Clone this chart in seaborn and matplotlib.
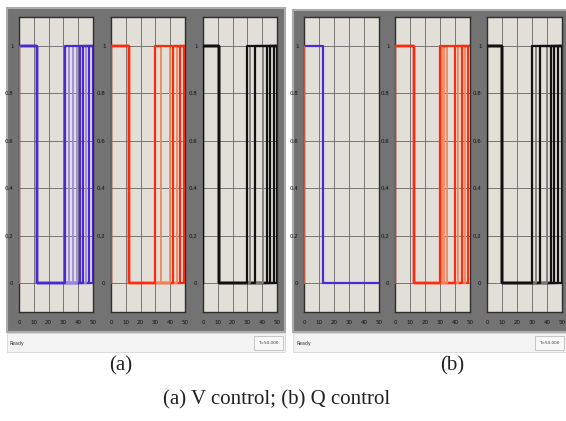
import numpy as np
import pandas as pd
import matplotlib
matplotlib.use('Agg')
import matplotlib.pyplot as plt
from matplotlib.patches import Rectangle
import seaborn as sns

### data : switching times of the units (state 1 -> 0 -> 1)
# (a) V control
a_blue_off = 12
a_blue_on = [31, 33.5, 36.5, 39, 41, 43, 45.5, 47.5, 50]
a_red_off = 12.4
a_red_on = [30, 34, 40, 42, 44.5, 46.5, 49]
a_black_off = 10.5
a_black_on = [30, 32, 35, 40.5, 43, 45.5, 48, 50]
# (b) Q control
b_blue_off = 12.5
b_blue_on = [None]          # never switched on again
b_red_off = 12.9
b_red_on = [30, 31.5, 33, 35, 40, 42, 44.5, 46.5, 49]
b_black_off = 10
b_black_on = [30, 32.5, 35, 40, 42.5, 44.5, 47, 50]

t_end = 50
x_ticks = [0, 10, 20, 30, 40, 50]
y_ticks = [0, 0.2, 0.4, 0.6, 0.8, 1]
y_ticklabels = ['0', '0.2', '0.4', '0.6', '0.8', '1']

W, H = 566, 421

def fig_box(x0, y0, x1, y1):
    # pixel box (top-left origin) -> figure fraction [left, bottom, width, height]
    return [x0 / W, 1 - y1 / H, (x1 - x0) / W, (y1 - y0) / H]

def step_df(off, on):
    xs = [0, off, off]
    ys = [1, 1, 0]
    if on is None:
        xs += [t_end]
        ys += [0]
    else:
        xs += [on, on, t_end]
        ys += [0, 1, 1]
    return pd.DataFrame({'t': xs, 'state': ys})

sns.set_style('white')
plt.rcParams['font.family'] = ['DejaVu Sans']

fig = plt.figure(figsize=(5.66, 4.21), dpi=100)
fig.patch.set_facecolor('white')

# window frames + status bars
for x0, x1, y0 in [(7, 285, 8), (293, 568, 10)]:
    fig.patches.append(Rectangle((x0 / W, 1 - 332 / H), (x1 - x0) / W, (332 - y0) / H,
                                 transform=fig.transFigure, facecolor='#737373',
                                 edgecolor='#ABABAB', lw=1.5, zorder=-3))
    fig.patches.append(Rectangle((x0 / W, 1 - 352 / H), (x1 - x0) / W, 19 / H,
                                 transform=fig.transFigure, facecolor='#F3F3F3',
                                 edgecolor='#D6D6D6', lw=0.6, zorder=-3))
    fig.text((x0 + 3) / W, 1 - 343 / H, 'Ready', fontsize=3.4, color='#333333', va='center')
    bx1 = min(x1, 566) - 2
    fig.patches.append(Rectangle(((bx1 - 29) / W, 1 - 350 / H), 29 / W, 14 / H,
                                 transform=fig.transFigure, facecolor='#F8F8F8',
                                 edgecolor='#BDBDBD', lw=0.6, zorder=-2))
    fig.text((bx1 - 14.5) / W, 1 - 343 / H, 'T=50.000', fontsize=3.0, color='#333333',
             va='center', ha='center')

blue_d, blue_l = '#4A2BD0', '#9C89E4'
red_d, red_l = '#FF2A0E', '#F3865F'
blk_d, blk_l = '#111111', '#7E7E7E'

panels = [
    ((19, 93), a_blue_off, a_blue_on, [blue_d, blue_l, blue_l, blue_l, blue_d, blue_d, blue_l, blue_d, blue_d], '#C0604A'),
    ((111, 185), a_red_off, a_red_on, [red_d, red_l, red_l, red_d, red_l, red_d, red_d], red_d),
    ((203, 277), a_black_off, a_black_on, [blk_d, blk_l, blk_d, blk_l, blk_d, blk_d, blk_d, blk_d], blk_d),
    ((304, 379), b_blue_off, b_blue_on, [blue_d], '#C0604A'),
    ((395, 470), b_red_off, b_red_on, [red_d, red_l, red_l, red_l, red_d, red_l, red_d, red_l, red_d], red_d),
    ((487, 562), b_black_off, b_black_on, [blk_d, blk_l, blk_d, blk_l, blk_d, blk_d, blk_d, blk_d], blk_d),
]

for (px0, px1), off, ons, cols, init_col in panels:
    ax = fig.add_axes(fig_box(px0, 17, px1, 312))
    ax.set_facecolor('#E1DFD7')
    # later risers first, earliest on top
    for on, c in reversed(list(zip(ons, cols))):
        d = step_df(off, on)
        lw = 1.6 if c in (blue_d, red_d, blk_d) else 1.3
        sns.lineplot(data=d, x='t', y='state', ax=ax, color=c, lw=lw,
                     sort=False, estimator=None, zorder=3)
    sns.lineplot(x=[0, 0], y=[0, 1], ax=ax, color=init_col, lw=1.0,
                 sort=False, estimator=None, zorder=4)
    ax.set_xlim(0, t_end)
    ax.set_ylim(-0.12, 1.12)
    ax.set_xticks(x_ticks)
    ax.set_xticklabels([str(v) for v in x_ticks])
    ax.set_yticks(y_ticks)
    ax.set_yticklabels(y_ticklabels)
    ax.grid(True, color='#666666', lw=0.6)
    ax.set_axisbelow(True)
    ax.set_xlabel('')
    ax.set_ylabel('')
    for s in ax.spines.values():
        s.set_color('#2E2E2E')
        s.set_linewidth(1.0)
    ax.tick_params(axis='x', length=0, pad=6, labelsize=4, colors='#111111')
    ax.tick_params(axis='y', length=2, width=0.5, pad=2, labelsize=4, colors='#111111')

serif = ['Liberation Serif', 'DejaVu Serif']
fig.text(121 / W, 1 - 366 / H, '(a)', fontsize=15, family=serif, ha='center', va='center', color='#222222')
fig.text(452 / W, 1 - 366 / H, '(b)', fontsize=15, family=serif, ha='center', va='center', color='#222222')
fig.text(277 / W, 1 - 400 / H, '(a) V control; (b) Q control', fontsize=15, family=serif,
         ha='center', va='center', color='#222222')

fig.savefig('out.png', dpi=100)
